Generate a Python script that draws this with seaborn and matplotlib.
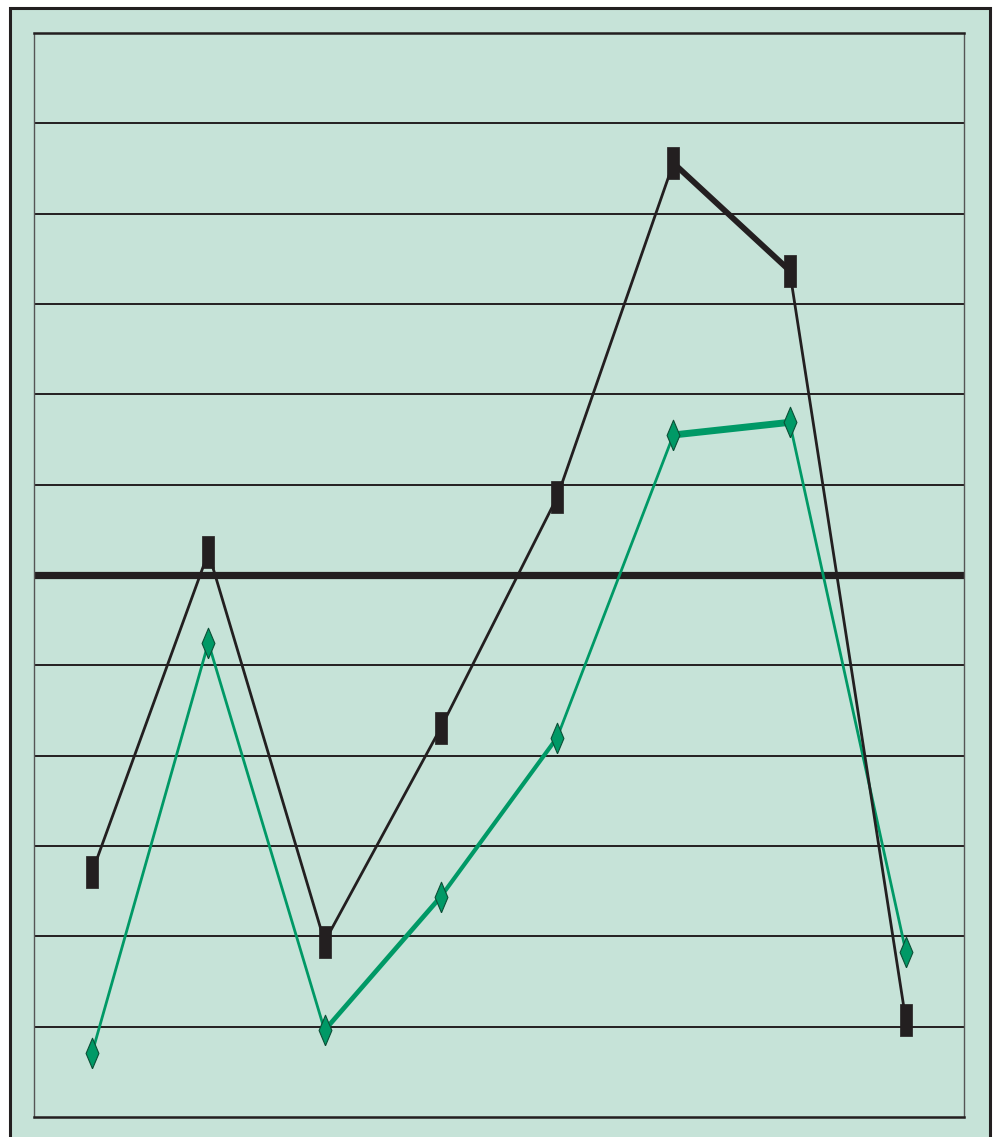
import numpy as np
import pandas as pd
import matplotlib
matplotlib.use('Agg')
import matplotlib.pyplot as plt
from matplotlib.patches import Rectangle
import seaborn as sns

# data (grid units, 0 = bottom edge, 12 = top edge)
points = [0, 1, 2, 3, 4, 5, 6, 7]
black_vals = [2.71, 6.25, 1.94, 4.31, 6.86, 10.56, 9.37, 1.07]
green_vals = [0.71, 5.25, 0.96, 2.44, 4.20, 7.55, 7.69, 1.83]
# width of each segment between neighbouring points
black_seg_lw = [2.0, 2.0, 2.0, 2.0, 2.0, 4.2, 2.0]
green_seg_lw = [2.0, 2.0, 3.4, 3.0, 2.0, 5.0, 2.0]

BG = '#c6e3d8'
DARK = '#231f20'
GREEN = '#009966'

df = pd.DataFrame({'x': points, 'black': black_vals, 'green': green_vals})

sns.set_style('white')
fig = plt.figure(figsize=(9.97, 11.37), dpi=100)
fig.patch.set_facecolor('white')

# green panel with dark frame behind the axes
fig.patches.append(Rectangle((10 / 997, -0.05), 980 / 997, 1.05 - 8 / 1137,
                             transform=fig.transFigure, facecolor=BG,
                             edgecolor=DARK, linewidth=2.2, zorder=-5))

ax = fig.add_axes([34 / 997, 20 / 1137, 930 / 997, 1084 / 1137])
ax.set_zorder(2)
ax.set_facecolor(BG)
ax.set_xlim(-0.5, 7.5)
ax.set_ylim(0, 12)

for y in range(1, 12):
    ax.axhline(y, color=DARK, lw=5.2 if y == 6 else 1.4, zorder=1)

rect_mark = [(-0.375, -1), (0.375, -1), (0.375, 1), (-0.375, 1), (-0.375, -1)]
diam_mark = [(0, -1), (0.42, 0), (0, 1), (-0.42, 0), (0, -1)]

# segments with their own widths
for i in range(len(points) - 1):
    ax.plot(points[i:i + 2], green_vals[i:i + 2], color=GREEN,
            lw=green_seg_lw[i], solid_capstyle='butt', zorder=2)
    ax.plot(points[i:i + 2], black_vals[i:i + 2], color=DARK,
            lw=black_seg_lw[i], solid_capstyle='butt', zorder=3)

sns.lineplot(data=df, x='x', y='green', ax=ax, lw=0, marker=diam_mark,
             markersize=22, color=GREEN, markeredgecolor='#0b4f36',
             markeredgewidth=0.8, zorder=4)
sns.lineplot(data=df, x='x', y='black', ax=ax, lw=0, marker=rect_mark,
             markersize=23, color=DARK, markeredgecolor=DARK,
             markeredgewidth=0.5, zorder=5)

ax.set_xticks([])
ax.set_yticks([])
ax.set_xlabel('')
ax.set_ylabel('')
for side in ['left', 'right']:
    ax.spines[side].set_color('#555555')
    ax.spines[side].set_linewidth(1.0)
for side in ['top', 'bottom']:
    ax.spines[side].set_color(DARK)
    ax.spines[side].set_linewidth(1.8)

fig.savefig('out.png', dpi=100, facecolor='white')
